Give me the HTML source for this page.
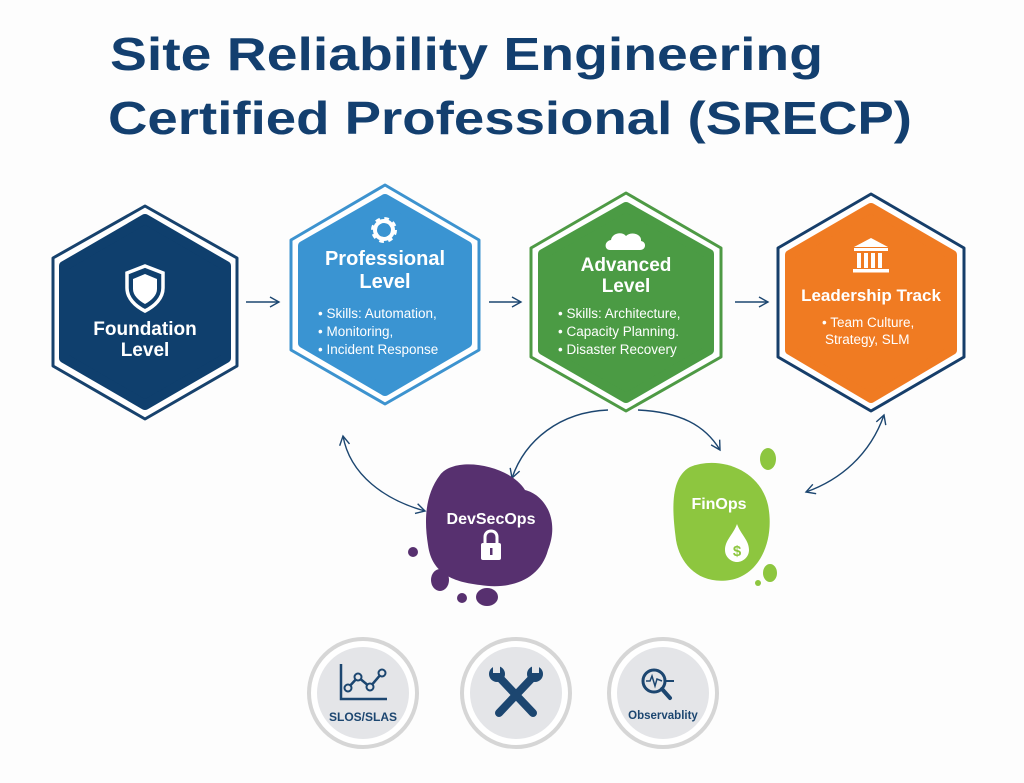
<!DOCTYPE html>
<html><head><meta charset="utf-8"><style>
html,body{margin:0;padding:0;background:#fff;}
svg{display:block;font-family:"Liberation Sans",sans-serif;}
</style></head><body>
<svg width="1024" height="783" viewBox="0 0 1024 783" xmlns="http://www.w3.org/2000/svg">
<rect width="1024" height="783" fill="#fdfdfd"/>
<defs>
<marker id="ah" viewBox="0 0 12 12" refX="10" refY="6" markerWidth="12" markerHeight="12" markerUnits="userSpaceOnUse" orient="auto-start-reverse"><path d="M1,1 L10,6 L1,11" fill="none" stroke="#1c4670" stroke-width="1.4"/></marker>
</defs>
<text x="110" y="70" font-size="46" font-weight="bold" fill="#133f6f" textLength="713" lengthAdjust="spacingAndGlyphs">Site Reliability Engineering</text>
<text x="108" y="134" font-size="46" font-weight="bold" fill="#133f6f" textLength="804" lengthAdjust="spacingAndGlyphs">Certified Professional (SRECP)</text>

<g stroke-linejoin="round">
<!-- Foundation -->
<polygon points="145,206 237,258 237,366 145,419 53,366 53,258" fill="#fff" stroke="#17426d" stroke-width="3" stroke-linejoin="round"/>
<polygon points="145,219 226,266 226,358 145,405 64,358 64,266" fill="#0f3f6d" stroke="#0f3f6d" stroke-width="10"/>
<!-- Professional -->
<polygon points="385,185 479,240 479,350 385,404 291,350 291,240" fill="#fff" stroke="#3d93cf" stroke-width="3"/>
<polygon points="385,199 467,246 467,343 385,391 303,343 303,246" fill="#3a94d2" stroke="#3a94d2" stroke-width="10"/>
<!-- Advanced -->
<polygon points="626,193 721,248 721,357 626,411 531,357 531,248" fill="#fff" stroke="#4e9a45" stroke-width="3"/>
<polygon points="626,207 709,254 709,350 626,398 543,350 543,254" fill="#4b9b44" stroke="#4b9b44" stroke-width="10"/>
<!-- Leadership -->
<polygon points="871,194 964,248 964,357 871,411 778,357 778,248" fill="#fff" stroke="#163e6a" stroke-width="3"/>
<polygon points="871,208 952,255 952,350 871,398 790,350 790,255" fill="#f07b22" stroke="#f07b22" stroke-width="10"/>
</g>

<!-- Foundation icon & text -->
<path d="M145,266 L163,273 L163,288 C163,298 155,306 145,311 C135,306 127,298 127,288 L127,273 Z" fill="none" stroke="#fff" stroke-width="3.5"/>
<path d="M145,274 L157,279 L157,289 C157,295 152,300 145,304 C138,300 133,295 133,289 L133,279 Z" fill="#fff"/>
<text x="145" y="335" font-size="19" font-weight="bold" fill="#fff" text-anchor="middle">Foundation</text>
<text x="145" y="356" font-size="19" font-weight="bold" fill="#fff" text-anchor="middle">Level</text>

<!-- Professional -->
<g transform="translate(384,230)">
<circle r="10" fill="none" stroke="#fff" stroke-width="6" stroke-dasharray="4 3.85"/>
<circle r="9" fill="none" stroke="#fff" stroke-width="4"/>
<circle r="3.5" fill="#3a94d2"/>
</g>
<text x="385" y="265" font-size="20" font-weight="bold" fill="#fff" text-anchor="middle">Professional</text>
<text x="385" y="288" font-size="20" font-weight="bold" fill="#fff" text-anchor="middle">Level</text>
<g font-size="13.5" fill="#fff">
<text x="318" y="318">• Skills: Automation,</text>
<text x="318" y="336">• Monitoring,</text>
<text x="318" y="354">• Incident Response</text>
</g>

<!-- Advanced -->
<path d="M610,250 C604,250 604,241 611,240 C612,233 622,231 626,236 C631,231 642,234 641,241 C647,242 646,250 640,250 Z" fill="#fff"/>
<text x="626" y="271" font-size="19" font-weight="bold" fill="#fff" text-anchor="middle">Advanced</text>
<text x="626" y="292" font-size="19" font-weight="bold" fill="#fff" text-anchor="middle">Level</text>
<g font-size="13.5" fill="#fff">
<text x="558" y="318">• Skills: Architecture,</text>
<text x="558" y="336">• Capacity Planning.</text>
<text x="558" y="354">• Disaster Recovery</text>
</g>

<!-- Leadership -->
<path d="M871,238 L888,247 L854,247 Z" fill="#fff"/>
<rect x="854" y="248" width="34" height="3" fill="#fff"/>
<rect x="857" y="253" width="4" height="15" fill="#fff"/>
<rect x="864" y="253" width="4" height="15" fill="#fff"/>
<rect x="871" y="253" width="4" height="15" fill="#fff"/>
<rect x="878" y="253" width="4" height="15" fill="#fff"/>
<rect x="853" y="269" width="36" height="3.5" fill="#fff"/>
<text x="871" y="301" font-size="17" font-weight="bold" fill="#fff" text-anchor="middle">Leadership Track</text>
<text x="822" y="327" font-size="13.5" fill="#fff">• Team Culture,</text>
<text x="825" y="344" font-size="13.5" fill="#fff">Strategy, SLM</text>

<!-- straight arrows -->
<g stroke="#1c4670" stroke-width="1.4" fill="none">
<line x1="246" y1="302" x2="279" y2="302" marker-end="url(#ah)"/>
<line x1="489" y1="302" x2="521" y2="302" marker-end="url(#ah)"/>
<line x1="735" y1="302" x2="768" y2="302" marker-end="url(#ah)"/>
<path d="M343,436 C350,475 385,500 425,511" marker-start="url(#ah)" marker-end="url(#ah)"/>
<path d="M608,410 C560,412 525,440 512,478" marker-end="url(#ah)"/>
<path d="M638,410 C680,412 705,425 720,450" marker-end="url(#ah)"/>
<path d="M884,415 C870,455 840,480 806,492" marker-start="url(#ah)" marker-end="url(#ah)"/>
</g>

<!-- DevSecOps blob -->
<path d="M440,475 C455,455 510,465 525,490 C545,495 560,520 548,550 C540,580 510,590 480,585 C455,582 432,575 428,545 C424,520 425,495 440,475 Z" fill="#57306f"/>
<circle cx="413" cy="552" r="5" fill="#57306f"/>
<ellipse cx="440" cy="580" rx="9" ry="11" fill="#57306f"/>
<circle cx="462" cy="598" r="5" fill="#57306f"/>
<ellipse cx="487" cy="597" rx="11" ry="9" fill="#57306f"/>
<text x="491" y="524" font-size="16" font-weight="bold" fill="#fff" text-anchor="middle">DevSecOps</text>
<path d="M485,544 L485,537 C485,529 497,529 497,537 L497,544" fill="none" stroke="#fff" stroke-width="3"/>
<rect x="481" y="543" width="20" height="17" rx="2" fill="#fff"/>
<rect x="490" y="548" width="2.5" height="7" fill="#57306f"/>

<!-- FinOps blob -->
<path d="M690,467 C720,455 760,470 768,505 C775,540 760,575 730,580 C700,585 680,565 676,540 C672,510 670,478 690,467 Z" fill="#8dc63f"/>
<ellipse cx="768" cy="459" rx="8" ry="11" fill="#8dc63f"/>
<ellipse cx="770" cy="573" rx="7" ry="9" fill="#8dc63f"/>
<circle cx="758" cy="583" r="3" fill="#8dc63f"/>
<text x="719" y="509" font-size="16" font-weight="bold" fill="#fff" text-anchor="middle">FinOps</text>
<path d="M737,524 C733,535 725,540 725,550 C725,557 731,562 737,562 C743,562 749,557 749,550 C749,540 741,535 737,524 Z" fill="#fff"/>
<text x="737" y="556" font-size="15" font-weight="bold" fill="#8dc63f" text-anchor="middle">$</text>

<!-- bottom circles -->
<g>
<circle cx="363" cy="693" r="54" fill="#fff" stroke="#d6d6d6" stroke-width="4"/>
<circle cx="363" cy="693" r="46" fill="#e4e5e8"/>
<circle cx="516" cy="693" r="54" fill="#fff" stroke="#d6d6d6" stroke-width="4"/>
<circle cx="516" cy="693" r="46" fill="#e4e5e8"/>
<circle cx="663" cy="693" r="54" fill="#fff" stroke="#d6d6d6" stroke-width="4"/>
<circle cx="663" cy="693" r="46" fill="#e4e5e8"/>
</g>
<g stroke="#1c4670" stroke-width="2.5" fill="none">
<path d="M341,664 L341,699 L387,699"/>
<polyline points="348,688 358,677 370,687 382,673"/>
</g>
<g fill="#e4e5e8" stroke="#1c4670" stroke-width="2">
<circle cx="348" cy="688" r="3.5"/><circle cx="358" cy="677" r="3.5"/><circle cx="370" cy="687" r="3.5"/><circle cx="382" cy="673" r="3.5"/>
</g>
<text x="363" y="721" font-size="12" font-weight="bold" fill="#1c4670" text-anchor="middle">SLOS/SLAS</text>
<g stroke="#1c4670" stroke-width="8" stroke-linecap="round">
<line x1="499" y1="677" x2="533" y2="713"/>
<line x1="533" y1="677" x2="499" y2="713"/>
</g>
<circle cx="497" cy="674" r="8" fill="#1c4670"/><circle cx="535" cy="674" r="8" fill="#1c4670"/>
<rect x="493" y="664" width="7" height="9" fill="#e4e5e8"/><rect x="532" y="664" width="7" height="9" fill="#e4e5e8"/>
<circle cx="654" cy="681" r="11" fill="none" stroke="#1c4670" stroke-width="3"/>
<line x1="662" y1="689" x2="670" y2="698" stroke="#1c4670" stroke-width="4" stroke-linecap="round"/>
<line x1="666" y1="681" x2="674" y2="681" stroke="#1c4670" stroke-width="2"/>
<polyline points="646,681 650,681 652,676 655,686 657,679 662,681" fill="none" stroke="#1c4670" stroke-width="1.5"/>
<text x="663" y="719" font-size="11.5" font-weight="bold" fill="#1c4670" text-anchor="middle">Observablity</text>
</svg>
</body></html>
